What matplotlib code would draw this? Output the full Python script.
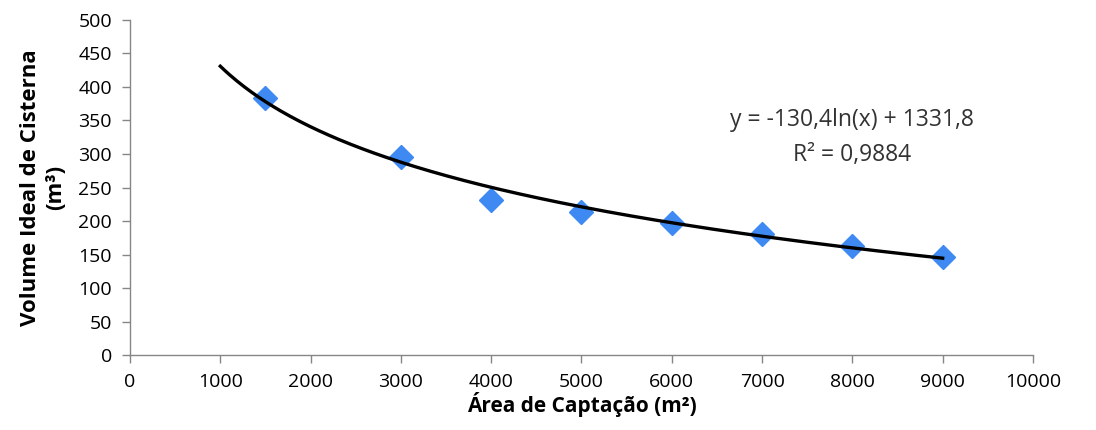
import numpy as np
import matplotlib
matplotlib.use("Agg")
from matplotlib import pyplot as plt

# data
area = [1500, 3000, 4000, 5000, 6000, 7000, 8000, 9000]
volume = [383, 295, 232, 214, 197, 180, 163, 146]

# logarithmic trend line as printed on the chart
coef_a = -130.4
coef_b = 1331.8
r2 = 0.9884
trend_start = 1000
trend_end = 9000

plt.rcParams['font.family'] = ['Open Sans', 'DejaVu Sans']
axis_color = '#868686'

fig = plt.figure(figsize=(10.96, 4.30), dpi=100)
ax = fig.add_axes([0.1186, 0.1744, 0.8239, 0.7791])

trend_x = np.linspace(trend_start, trend_end, 300)
trend_y = coef_a * np.log(trend_x) + coef_b

ax.plot(area, volume, linestyle='none', marker='D', markersize=12,
        color='#3E8AF2', zorder=2)
ax.plot(trend_x, trend_y, color='black', linewidth=2.4, zorder=3)

ax.set_xlim(0, 10000)
ax.set_ylim(0, 500)
ax.set_xticks(np.arange(0, 10001, 1000))
ax.set_yticks(np.arange(0, 501, 50))

for side in ['top', 'right']:
    ax.spines[side].set_visible(False)
for side in ['left', 'bottom']:
    ax.spines[side].set_color(axis_color)
    ax.spines[side].set_linewidth(1.0)
ax.tick_params(axis='both', colors=axis_color, length=6, width=1.0,
               labelsize=14, labelcolor='black', direction='out', pad=7)

ax.set_xlabel('Área de Captação (m²)', fontsize=15, fontweight='bold', labelpad=1)
ax.set_ylabel('Volume Ideal de Cisterna\n(m³)', fontsize=16, fontweight='bold',
              labelpad=9, linespacing=1.2)

ax.text(8000, 350, f'y = {coef_a:.1f}ln(x) + {coef_b:.1f}'.replace('.', ','),
        fontsize=16.5, ha='center', va='center', color='#333333')
ax.text(8000, 298, f'R² = {r2:.4f}'.replace('.', ','),
        fontsize=16.5, ha='center', va='center', color='#333333')

plt.savefig('out.png', dpi=100)
